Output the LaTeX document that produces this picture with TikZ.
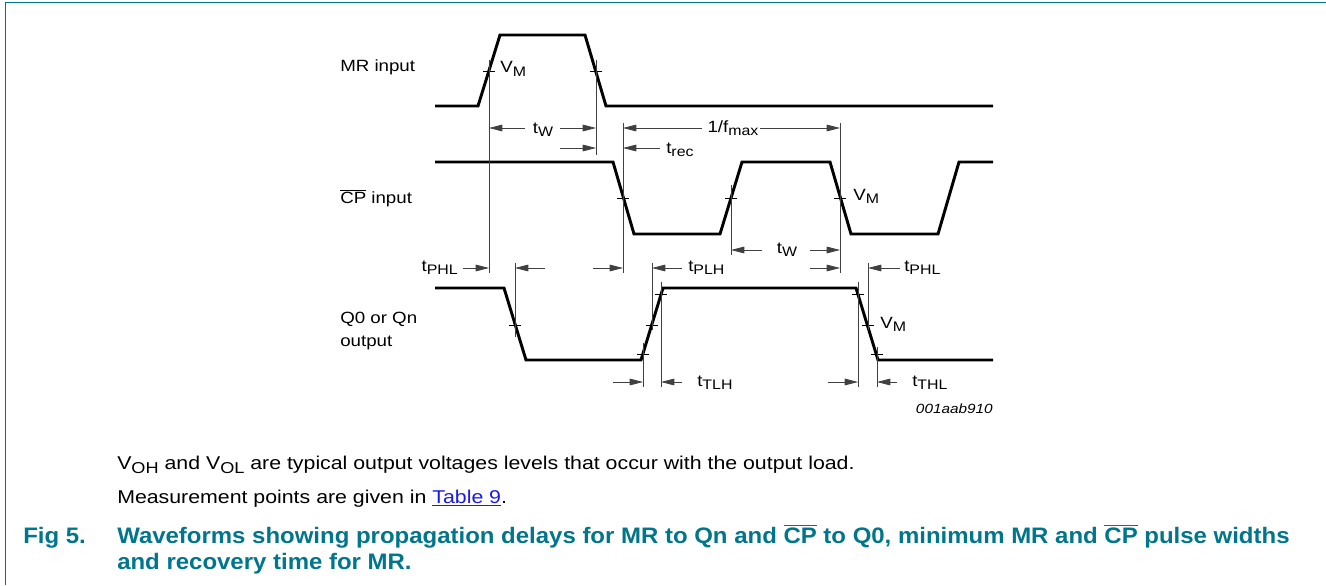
\documentclass[tikz,border=0pt]{standalone}
\usepackage{graphicx}
\usepackage{fontspec}
\setmainfont{Liberation Sans}[FakeStretch=1.15]
\newfontfamily\capfont{Liberation Sans}[FakeStretch=1.07]
\usetikzlibrary{arrows.meta}
\definecolor{figteal}{RGB}{0,118,140}
\definecolor{linkblue}{RGB}{25,25,235}
\newcommand{\lo}[1]{\raisebox{-0.45ex}{\scalebox{0.85}{#1}}}

\begin{document}
\begin{tikzpicture}[
  x=0.75pt, y=-0.75pt,
  wave/.style={line width=2.2pt, line join=miter},
  guide/.style={line width=0.6pt, black!75},
  dim/.style={guide, -{Triangle[length=10pt, width=5pt]}},
  tickmark/.style={line width=0.6pt},
  lbl/.style={inner sep=0pt, font=\fontsize{12.2}{14}\selectfont},
  note/.style={inner sep=0pt, anchor=base west, font=\fontsize{13.9}{16}\selectfont},
  figcap/.style={inner sep=0pt, anchor=base west, text=figteal,
                 font=\capfont\fontsize{16.8}{20}\selectfont\bfseries}
]
\useasboundingbox (0,0) rectangle (1326,585);
\draw[figteal, line width=1.1pt] (5.5,585) |- (1326,2.5);

% signal names
\node[lbl, anchor=base west] (mrname) at (340,71) {MR input};
\node[lbl, anchor=base west] (cpname) at (340,203) {$\overline{\mbox{CP}}$ input};
\node[lbl, anchor=base west] (qname) at (340,323) {Q0 or Qn};
\node[lbl, anchor=base west] (qname2) at (340,346) {output};

% waveforms
\draw[wave] (435,106) -- (478,106) -- (500,35) -- (585,35) -- (606,106) -- (993,106);
\draw[wave] (435,162) -- (613,162) -- (634,234) -- (720,234) -- (742,162)
  -- (830,162) -- (851,234) -- (938,234) -- (959,162) -- (993,162);
\draw[wave] (435,288) -- (504,288) -- (526,360) -- (641,360) -- (663,288)
  -- (856,288) -- (878,360) -- (993,360);

% measurement points
\foreach \x/\y in {489/71, 596/71, 623/198, 731/198, 840/198, 515/325,
                   643/354, 652/325, 661/294, 858/294, 868/325, 877/354}
  \draw[tickmark] (\x-6,\y) -- (\x+6,\y);

% reference lines
\foreach \x/\ya/\yb in {489/60/273, 596/60/155, 623/123/273, 840/123/273,
                        731/185/255, 515/263/337, 652/263/330, 643/343/387,
                        661/282/387, 858/282/387, 868/263/330, 877/347/387}
  \draw[guide] (\x,\ya) -- (\x,\yb);

% timing arrows
\draw[dim] (525,128) -- (489,128);
\draw[dim] (560,128) -- (596,128);
\draw[dim] (702,128) -- (623,128);
\draw[dim] (760,128) -- (840,128);
\draw[dim] (560,148) -- (596,148);
\draw[dim] (660,148) -- (623,148);
\draw[dim] (762,250) -- (731,250);
\draw[dim] (810,250) -- (840,250);
\draw[dim] (463,268) -- (489,268);
\draw[dim] (545,268) -- (515,268);
\draw[dim] (593,268) -- (623,268);
\draw[dim] (682,268) -- (652,268);
\draw[dim] (810,268) -- (840,268);
\draw[dim] (900,268) -- (868,268);
\draw[dim] (613,382) -- (643,382);
\draw[dim] (682,382) -- (661,382);
\draw[dim] (828,382) -- (858,382);
\draw[dim] (897,382) -- (877,382);

% timing labels
\node[lbl, anchor=base west] (vmmr) at (500,73) {V\lo{M}};
\node[lbl, anchor=base] (twmr) at (543,133) {t\lo{W}};
\node[lbl, anchor=base] (fmax) at (733,132) {1/f\lo{max}};
\node[lbl, anchor=base west] (trec) at (666,153) {t\lo{rec}};
\node[lbl, anchor=base west] (vmcp) at (853,200) {V\lo{M}};
\node[lbl, anchor=base] (twcp) at (787,253) {t\lo{W}};
\node[lbl, anchor=base east] (tphla) at (458,271) {t\lo{PHL}};
\node[lbl, anchor=base west] (tplh) at (688,271) {t\lo{PLH}};
\node[lbl, anchor=base west] (tphlb) at (904,271) {t\lo{PHL}};
\node[lbl, anchor=base west] (vmq) at (880,328) {V\lo{M}};
\node[lbl, anchor=base west] (ttlh) at (697,386) {t\lo{TLH}};
\node[lbl, anchor=base west] (tthl) at (912,386) {t\lo{THL}};
\node[lbl, anchor=base east, font=\fontsize{10}{12}\selectfont\itshape] (figid)
  at (993,413) {001aab910};

% notes and caption
\node[note] (vnote) at (117,469)
  {V\lo{OH} and V\lo{OL} are typical output voltages levels that occur with the output load.};
\node[note] (mnote) at (117,503)
  {Measurement points are given in {\color{linkblue}\underline{Table 9}}.};
\node[figcap] (fignum) at (23,543) {Fig 5.};
\node[figcap] (figtitle) at (117,543) {Waveforms showing propagation delays for MR to Qn
  and $\overline{\mbox{CP}}$ to Q0, minimum MR and $\overline{\mbox{CP}}$ pulse widths};
\node[figcap] (figtitle2) at (117,569) {and recovery time for MR.};
\end{tikzpicture}
\end{document}
